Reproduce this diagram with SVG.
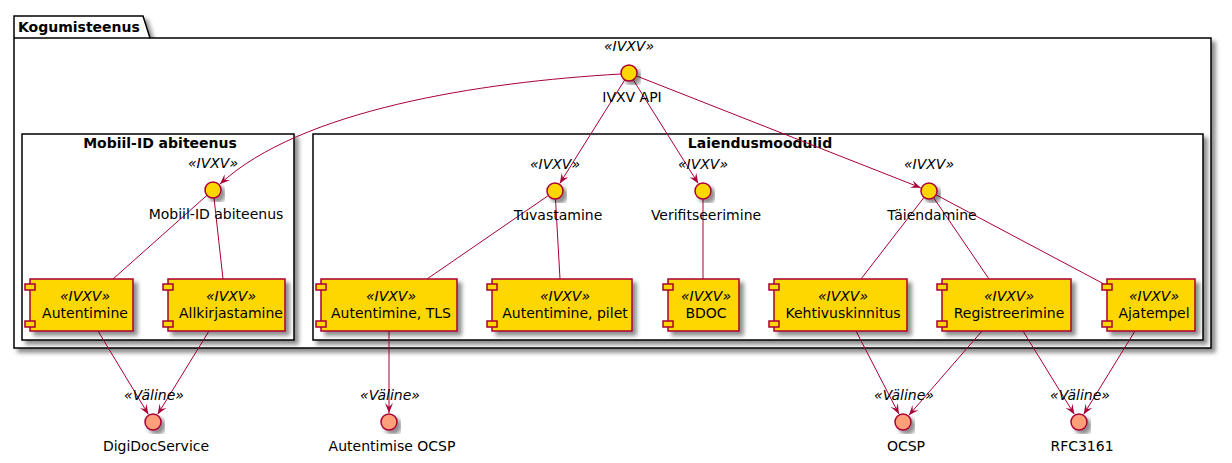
<svg xmlns="http://www.w3.org/2000/svg" width="1232" height="463" viewBox="0 0 1232 463">
<defs>
<filter id="sh" x="-10%" y="-10%" width="130%" height="130%">
<feDropShadow dx="4" dy="4" stdDeviation="2" flood-color="#000" flood-opacity="0.45"/>
</filter>
<marker id="ah" viewBox="0 0 10 8" refX="10" refY="4" markerWidth="10" markerHeight="8" markerUnits="userSpaceOnUse" orient="auto">
<path d="M0,0 L10,4 L0,8 L4,4 Z" fill="#A80036"/>
</marker>
<style>
text{font-family:"DejaVu Sans","Liberation Sans",sans-serif;font-size:14px;fill:#000}
.b{font-weight:bold}
.st{font-style:italic}
.m{text-anchor:middle}
.box{fill:#fff;stroke:#000;stroke-width:1.5}
.ci{fill:#FFD700;stroke:#A80036;stroke-width:1.5}
.ce{fill:#FFA07A;stroke:#A80036;stroke-width:1.5}
.cp{fill:#FFD700;stroke:#A80036;stroke-width:1.5}
.ln{fill:none;stroke:#A80036;stroke-width:1}
.ar{fill:none;stroke:#A80036;stroke-width:1;marker-end:url(#ah)}
</style>
</defs>

<g id="pkg-kogumisteenus">
<path class="box" filter="url(#sh)" d="M14,16 L143,16 L150,38 L1211,38 L1211,348 L14,348 Z"/>
<line x1="14" y1="38" x2="150" y2="38" stroke="#000" stroke-width="1.5"/>
<text class="b" x="18" y="32">Kogumisteenus</text>
</g>

<g id="rect-mobiil">
<rect class="box" filter="url(#sh)" x="22" y="134" width="272" height="206"/>
<text class="b m" x="160" y="148">Mobiil-ID abiteenus</text>
</g>

<g id="rect-laiendus">
<rect class="box" filter="url(#sh)" x="313" y="134" width="890" height="206"/>
<text class="b m" x="760" y="148">Laiendusmoodulid</text>
</g>

<g id="connectors">
<path class="ar" d="M621,74 C480,82 300,110 220,184"/>
<line class="ar" x1="624.8" y1="79.8" x2="559.8" y2="183.4"/>
<line class="ar" x1="633.2" y1="79.8" x2="698.2" y2="183.4"/>
<line class="ar" x1="636.4" y1="75.9" x2="920.6" y2="187.7"/>
<line class="ln" x1="207" y1="195.3" x2="113" y2="279"/>
<line class="ln" x1="214" y1="198" x2="223" y2="279"/>
<line class="ln" x1="548.4" y1="195.5" x2="427" y2="279"/>
<line class="ln" x1="555.5" y1="199" x2="560" y2="279"/>
<line class="ln" x1="703" y1="199" x2="703" y2="279"/>
<line class="ln" x1="924.1" y1="197.3" x2="861" y2="279"/>
<line class="ln" x1="933.5" y1="197.6" x2="989" y2="279"/>
<line class="ln" x1="936" y1="194.8" x2="1104" y2="284"/>
<line class="ar" x1="98" y1="331" x2="148.3" y2="414.3"/>
<line class="ar" x1="209" y1="331" x2="157.7" y2="414.3"/>
<line class="ar" x1="389" y1="331" x2="389" y2="413"/>
<line class="ar" x1="856" y1="331" x2="898.9" y2="414"/>
<line class="ar" x1="982" y1="331" x2="908.9" y2="415.2"/>
<line class="ar" x1="1023" y1="331" x2="1074.3" y2="414.3"/>
<line class="ar" x1="1135" y1="331" x2="1083.7" y2="414.3"/>
</g>

<g id="if-ivxv-api">
<circle class="ci" filter="url(#sh)" cx="629" cy="73" r="8"/>
<text class="st m" x="629" y="51">«IVXV»</text>
<text class="m" x="632" y="102">IVXV API</text>
</g>

<g id="if-mobiil">
<circle class="ci" filter="url(#sh)" cx="213" cy="190" r="8"/>
<text class="st m" x="213" y="168">«IVXV»</text>
<text class="m" x="216" y="219">Mobiil-ID abiteenus</text>
</g>

<g id="if-tuvastamine">
<circle class="ci" filter="url(#sh)" cx="555" cy="191" r="8"/>
<text class="st m" x="555" y="169">«IVXV»</text>
<text class="m" x="558" y="220">Tuvastamine</text>
</g>

<g id="if-verifitseerimine">
<circle class="ci" filter="url(#sh)" cx="703" cy="191" r="8"/>
<text class="st m" x="703" y="169">«IVXV»</text>
<text class="m" x="706" y="220">Verifitseerimine</text>
</g>

<g id="if-taiendamine">
<circle class="ci" filter="url(#sh)" cx="929" cy="191" r="8"/>
<text class="st m" x="929" y="169">«IVXV»</text>
<text class="m" x="932" y="220">Täiendamine</text>
</g>

<g id="comp-autentimine">
<rect class="cp" filter="url(#sh)" x="30" y="279" width="103" height="52"/>
<rect class="cp" x="25" y="284" width="10" height="6"/>
<rect class="cp" x="25" y="321" width="10" height="6"/>
<text class="st m" x="85" y="301">«IVXV»</text>
<text class="m" x="85" y="318">Autentimine</text>
</g>

<g id="comp-allkirjastamine">
<rect class="cp" filter="url(#sh)" x="168" y="279" width="117" height="52"/>
<rect class="cp" x="163" y="284" width="10" height="6"/>
<rect class="cp" x="163" y="321" width="10" height="6"/>
<text class="st m" x="231" y="301">«IVXV»</text>
<text class="m" x="231" y="318">Allkirjastamine</text>
</g>

<g id="comp-tls">
<rect class="cp" filter="url(#sh)" x="321" y="279" width="136" height="52"/>
<rect class="cp" x="316" y="284" width="10" height="6"/>
<rect class="cp" x="316" y="321" width="10" height="6"/>
<text class="st m" x="391" y="301">«IVXV»</text>
<text class="m" x="391" y="318">Autentimine, TLS</text>
</g>

<g id="comp-pilet">
<rect class="cp" filter="url(#sh)" x="492" y="279" width="140" height="52"/>
<rect class="cp" x="487" y="284" width="10" height="6"/>
<rect class="cp" x="487" y="321" width="10" height="6"/>
<text class="st m" x="565" y="301">«IVXV»</text>
<text class="m" x="565" y="318">Autentimine, pilet</text>
</g>

<g id="comp-bdoc">
<rect class="cp" filter="url(#sh)" x="668" y="279" width="71" height="52"/>
<rect class="cp" x="663" y="284" width="10" height="6"/>
<rect class="cp" x="663" y="321" width="10" height="6"/>
<text class="st m" x="706" y="301">«IVXV»</text>
<text class="m" x="706" y="318">BDOC</text>
</g>

<g id="comp-kehtivuskinnitus">
<rect class="cp" filter="url(#sh)" x="774" y="279" width="133" height="52"/>
<rect class="cp" x="769" y="284" width="10" height="6"/>
<rect class="cp" x="769" y="321" width="10" height="6"/>
<text class="st m" x="843" y="301">«IVXV»</text>
<text class="m" x="843" y="318">Kehtivuskinnitus</text>
</g>

<g id="comp-registreerimine">
<rect class="cp" filter="url(#sh)" x="942" y="279" width="129" height="52"/>
<rect class="cp" x="937" y="284" width="10" height="6"/>
<rect class="cp" x="937" y="321" width="10" height="6"/>
<text class="st m" x="1009" y="301">«IVXV»</text>
<text class="m" x="1009" y="318">Registreerimine</text>
</g>

<g id="comp-ajatempel">
<rect class="cp" filter="url(#sh)" x="1107" y="279" width="88" height="52"/>
<rect class="cp" x="1102" y="284" width="10" height="6"/>
<rect class="cp" x="1102" y="321" width="10" height="6"/>
<text class="st m" x="1154" y="301">«IVXV»</text>
<text class="m" x="1154" y="318">Ajatempel</text>
</g>

<g id="ext-digidoc">
<circle class="ce" filter="url(#sh)" cx="153" cy="422" r="8"/>
<text class="st m" x="154" y="400">«Väline»</text>
<text class="m" x="156" y="451">DigiDocService</text>
</g>

<g id="ext-autocsp">
<circle class="ce" filter="url(#sh)" cx="389" cy="422" r="8"/>
<text class="st m" x="390" y="400">«Väline»</text>
<text class="m" x="392" y="451">Autentimise OCSP</text>
</g>

<g id="ext-ocsp">
<circle class="ce" filter="url(#sh)" cx="903" cy="422" r="8"/>
<text class="st m" x="904" y="400">«Väline»</text>
<text class="m" x="906" y="451">OCSP</text>
</g>

<g id="ext-rfc3161">
<circle class="ce" filter="url(#sh)" cx="1079" cy="422" r="8"/>
<text class="st m" x="1080" y="400">«Väline»</text>
<text class="m" x="1082" y="451">RFC3161</text>
</g>
</svg>
